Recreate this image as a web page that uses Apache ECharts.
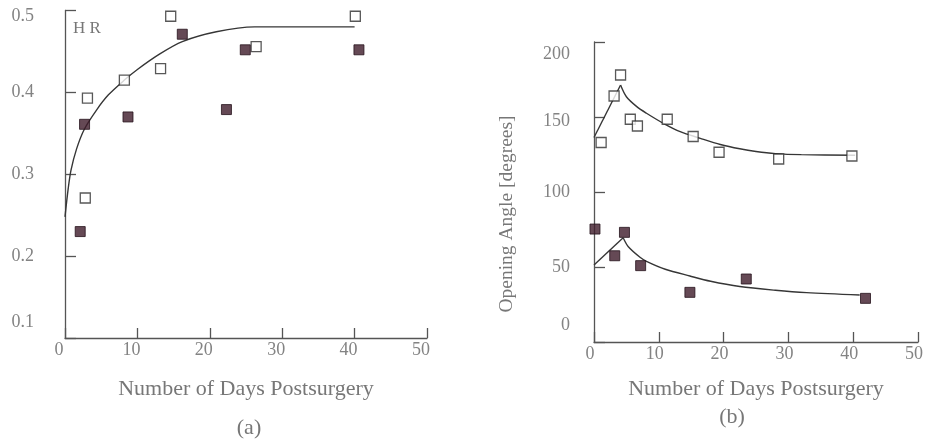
<!DOCTYPE html>
<html>
<head>
<meta charset="utf-8">
<script src="https://cdn.jsdelivr.net/npm/echarts@6/dist/echarts.min.js"></script>
<style>
  html, body { margin: 0; padding: 0; background: #fff; }
  #chart { width: 926px; height: 441px; }
</style>
</head>
<body>
<div id="chart"></div>
<script>
// Panel (a): H/R ratio vs. days after surgery
const hrOpenDays   = [2.8, 3.1, 8.2, 13.2, 14.6, 26.4, 40.1];
const hrOpenVals   = [0.271, 0.393, 0.415, 0.429, 0.493, 0.456, 0.493];
const hrFilledDays = [2.1, 2.7, 8.7, 16.2, 22.3, 24.9, 40.6];
const hrFilledVals = [0.230, 0.361, 0.370, 0.471, 0.379, 0.452, 0.452];
const hrFitDays    = [0, 0.45, 0.83, 1.6, 2.67, 4.4, 6, 8.2, 10, 13.1, 16.2, 20.9, 26.2, 30, 40];
const hrFitVals    = [0.248, 0.283, 0.305, 0.331, 0.355, 0.379, 0.397, 0.415, 0.428, 0.447, 0.462, 0.474, 0.480, 0.480, 0.480];

// Panel (b): opening angle vs. days after surgery
const angOpenDays   = [1.1, 3.1, 4.1, 5.6, 6.7, 11.3, 15.3, 19.3, 28.5, 39.8];
const angOpenVals   = [133, 164, 178, 148.5, 144, 148.5, 137, 126.5, 122, 124];
const angFilledDays = [0.15, 3.2, 4.7, 7.2, 14.8, 23.5, 41.9];
const angFilledVals = [75.3, 57.5, 73.1, 50.9, 33.1, 42, 29.1];
const upRiseDays  = [0, 4.1];
const upRiseVals  = [136.3, 171.3];
const upDecayDays = [4.1, 5.0, 6.6, 8.1, 10.7, 13.3, 16.4, 19.5, 22.5, 25, 28, 32, 40.3];
const upDecayVals = [171.3, 163.5, 156.9, 152.5, 145.8, 140.2, 135.8, 131.7, 128.8, 127, 125.6, 124.9, 124.5];
const loRiseDays  = [0, 4.5];
const loRiseVals  = [51.3, 69.5];
const loDecayDays = [4.5, 5.3, 7.1, 8.1, 11, 14.8, 18, 22.5, 28, 32.8, 41];
const loDecayVals = [69.5, 63.5, 56.5, 53.8, 48.5, 44, 40.5, 37, 34.5, 32.9, 31.3];

// Tick labels
const dayTicks = ['0', '10', '20', '30', '40', '50'];
const hrTicks  = ['0.1', '0.2', '0.3', '0.4', '0.5'];
const angTicks = ['0', '50', '100', '150', '200'];

const pairs = (xs, ys) => xs.map((x, i) => [x, ys[i]]);

const SERIF = '"Liberation Serif", "DejaVu Serif", serif';
const TICK_COLOR = '#838383';
const NAME_COLOR = '#777777';
const AXIS_COLOR = '#555';
const LINE_COLOR = '#363636';

const openStyle = { color: '#ffffff', borderColor: '#2e2e2e', borderWidth: 1.3 };
const filledStyle = { color: '#3f1b2a', borderColor: '#26131b', borderWidth: 1 };

function xAxisFor(gridIndex, pad) {
  return {
    type: 'value', gridIndex: gridIndex, min: 0, max: 50, interval: 10,
    name: 'Number of Days Postsurgery', nameLocation: 'middle',
    nameGap: gridIndex === 0 ? 40 : 36,
    nameTextStyle: { fontFamily: SERIF, fontSize: 22, color: NAME_COLOR },
    axisLine: { lineStyle: { color: AXIS_COLOR, width: 1.3 } },
    axisTick: { inside: true, length: 10, lineStyle: { color: AXIS_COLOR, width: 1.3 } },
    splitLine: { show: false },
    axisLabel: {
      fontFamily: SERIF, fontSize: 18, color: TICK_COLOR, margin: 3,
      padding: [0, pad, 0, 0],
      formatter: v => dayTicks[Math.round(v / 10)]
    }
  };
}

// Vertical label nudges (px, positive = down), one per tick label
function yAxisFor(gridIndex, min, max, interval, labels, nudges, margin, extra) {
  return Object.assign({
    type: 'value', gridIndex: gridIndex, min: min, max: max, interval: interval,
    axisLine: { show: true, lineStyle: { color: AXIS_COLOR, width: 1.3 } },
    axisTick: { show: true, inside: true, length: 11, lineStyle: { color: AXIS_COLOR, width: 1.3 } },
    splitLine: { show: false },
    axisLabel: {
      fontFamily: SERIF, fontSize: 18, color: TICK_COLOR, margin: margin,
      formatter: v => {
        const idx = Math.round((v - min) / interval);
        const t = labels[idx];
        const s = nudges[idx] || 0;
        if (s > 0) return '{g' + s + '| }\n{lo|' + t + '}';
        if (s < 0) return '{lo|' + t + '}\n{g' + (-s) + '| }';
        return t;
      },
      rich: Object.assign(
        { lo: { fontFamily: SERIF, fontSize: 18, color: TICK_COLOR, lineHeight: 20 } },
        ...nudges.filter(s => s).map(s => ({ ['g' + Math.abs(s)]: { fontSize: 1, lineHeight: 2 * Math.abs(s) } }))
      )
    }
  }, extra || {});
}

const chart = echarts.init(document.getElementById('chart'), null, { renderer: 'canvas' });

const plain = { fontFamily: SERIF, fontWeight: 'normal', color: NAME_COLOR };
const curve = { color: LINE_COLOR, width: 1.4 };

chart.setOption({
  backgroundColor: '#ffffff',
  animation: false,
  title: [
    { text: 'H R', left: 73, top: 20, padding: 0,
      textStyle: Object.assign({ fontSize: 17 }, plain) },
    { text: '(a)', left: 249, top: 417, padding: 0, textAlign: 'center',
      textStyle: Object.assign({ fontSize: 22 }, plain) },
    { text: '(b)', left: 732, top: 406, padding: 0, textAlign: 'center',
      textStyle: Object.assign({ fontSize: 22 }, plain) }
  ],
  grid: [
    { left: 65, top: 10, width: 362, height: 328 },
    { left: 594, top: 42, width: 324, height: 300 }
  ],
  xAxis: [xAxisFor(0, 12), xAxisFor(1, 8)],
  yAxis: [
    yAxisFor(0, 0.1, 0.5, 0.1, hrTicks, [-16, 0, 0, 0, 6], 31),
    yAxisFor(1, 0, 200, 50, angTicks, [-17, 0, 0, 4, 12], 24, {
      name: 'Opening Angle [degrees]', nameLocation: 'middle', nameRotate: 90, nameGap: 77,
      nameTextStyle: { fontFamily: SERIF, fontSize: 19.5, color: NAME_COLOR, padding: [0, 44, 0, 0] }
    })
  ],
  series: [
    { type: 'line', xAxisIndex: 0, yAxisIndex: 0, data: pairs(hrFitDays, hrFitVals),
      smooth: 0.3, showSymbol: false, lineStyle: curve, z: 2 },
    { type: 'scatter', xAxisIndex: 0, yAxisIndex: 0, data: pairs(hrOpenDays, hrOpenVals),
      symbol: 'rect', symbolSize: 10, itemStyle: openStyle, z: 3 },
    { type: 'scatter', xAxisIndex: 0, yAxisIndex: 0, data: pairs(hrFilledDays, hrFilledVals),
      symbol: 'rect', symbolSize: 10, itemStyle: filledStyle, z: 3 },

    { type: 'line', xAxisIndex: 1, yAxisIndex: 1, data: pairs(upRiseDays, upRiseVals),
      showSymbol: false, lineStyle: curve, z: 2 },
    { type: 'line', xAxisIndex: 1, yAxisIndex: 1, data: pairs(upDecayDays, upDecayVals),
      smooth: 0.3, showSymbol: false, lineStyle: curve, z: 2 },
    { type: 'line', xAxisIndex: 1, yAxisIndex: 1, data: pairs(loRiseDays, loRiseVals),
      showSymbol: false, lineStyle: curve, z: 2 },
    { type: 'line', xAxisIndex: 1, yAxisIndex: 1, data: pairs(loDecayDays, loDecayVals),
      smooth: 0.3, showSymbol: false, lineStyle: curve, z: 2 },
    { type: 'scatter', xAxisIndex: 1, yAxisIndex: 1, data: pairs(angOpenDays, angOpenVals),
      symbol: 'rect', symbolSize: 10, itemStyle: openStyle, z: 3 },
    { type: 'scatter', xAxisIndex: 1, yAxisIndex: 1, data: pairs(angFilledDays, angFilledVals),
      symbol: 'rect', symbolSize: 10, itemStyle: filledStyle, z: 3 }
  ]
});
</script>
</body>
</html>
